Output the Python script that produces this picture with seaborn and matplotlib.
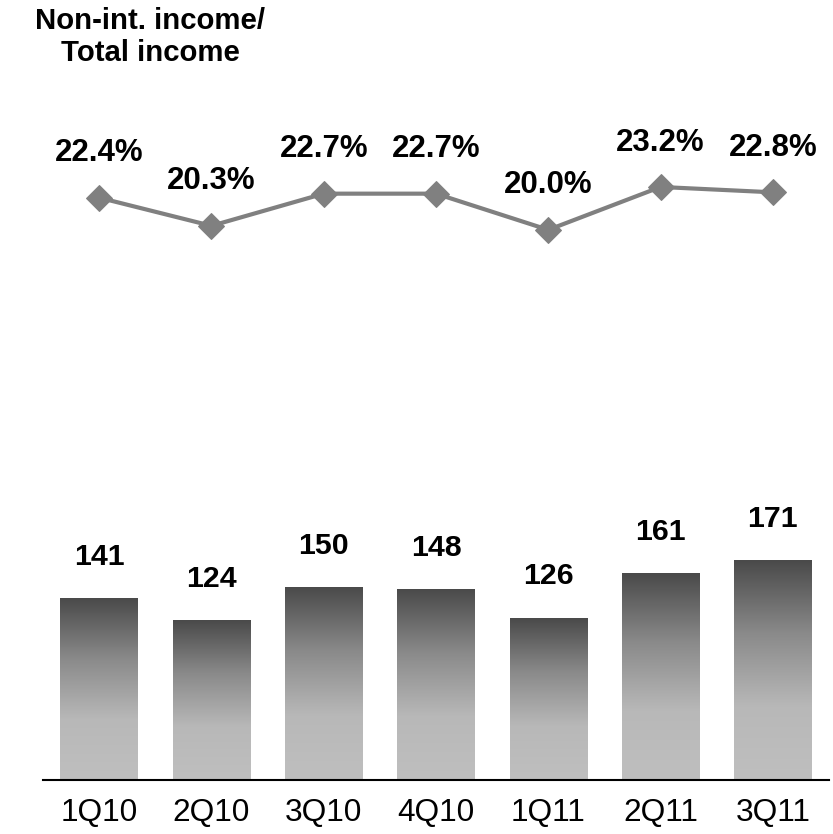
import numpy as np
import pandas as pd
import matplotlib
matplotlib.use('Agg')
import matplotlib.pyplot as plt
import seaborn as sns

# data
quarters = ['1Q10', '2Q10', '3Q10', '4Q10', '1Q11', '2Q11', '3Q11']
income = [141, 124, 150, 148, 126, 161, 171]
ratio = [22.4, 20.3, 22.7, 22.7, 20.0, 23.2, 22.8]

df = pd.DataFrame({'quarter': quarters, 'income': income, 'ratio': ratio})

sns.set_style('white')
plt.rcParams['font.family'] = ['Liberation Sans', 'DejaVu Sans']
plt.rcParams['text.color'] = 'black'
plt.rcParams['xtick.color'] = 'black'

W, H = 833, 834
fig = plt.figure(figsize=(W / 100, H / 100), dpi=100)

# bottom: bars
ax_bar = fig.add_axes([43 / W, 54 / H, 786 / W, 280 / H])
sns.barplot(data=df, x='quarter', y='income', ax=ax_bar, width=0.69,
            color='#888888', saturation=1)

# vertical gradient per bar: dark top, light bottom
grad = np.linspace(0, 1, 256).reshape(-1, 1)
cmap = matplotlib.colors.LinearSegmentedColormap.from_list(
    'g', ['#bfbfbf', '#b8b8b8', '#8a8a8a', '#4a4a4a'])
for p in ax_bar.patches:
    x0, y0 = p.get_x(), p.get_y()
    w, h = p.get_width(), p.get_height()
    p.set_facecolor('none')
    p.set_edgecolor('none')
    ax_bar.imshow(grad, extent=[x0, x0 + w, y0, y0 + h], origin='lower',
                  aspect='auto', cmap=cmap, zorder=2)
ax_bar.set_xlim(-0.5, 6.5)
ax_bar.set_ylim(0, 218)

for i, v in enumerate(income):
    ax_bar.annotate(str(v), (i, v), xytext=(0, 30), textcoords='offset points',
                    ha='center', va='center', fontsize=21.8, fontweight='bold',
                    color='black')

for s in ['top', 'right', 'left']:
    ax_bar.spines[s].set_visible(False)
ax_bar.spines['bottom'].set_color('black')
ax_bar.spines['bottom'].set_linewidth(1.5)
ax_bar.set_yticks([])
ax_bar.set_xlabel('')
ax_bar.set_ylabel('')
ax_bar.tick_params(axis='x', length=0, pad=13, labelsize=22.8, labelcolor='black')

# top: line
ax_line = fig.add_axes([43 / W, (H - 260) / H, 786 / W, 130 / H])
sns.lineplot(data=df, x='quarter', y='ratio', ax=ax_line, sort=False,
             color='#808080', linewidth=3, marker='D', markersize=13,
             markeredgecolor='#808080')
ax_line.set_xlim(-0.5, 6.5)
ax_line.set_ylim(17.75, 27.45)
ax_line.axis('off')

for i, v in enumerate(ratio):
    ax_line.annotate(f'{v:.1f}%', (i, v), xytext=(0, 32), textcoords='offset points',
                     ha='center', va='center', fontsize=22.5, fontweight='bold',
                     color='black')

fig.text(150 / W, 1 - 37 / H, 'Non-int. income/\nTotal income', ha='center', va='center',
         fontsize=21.2, fontweight='bold', linespacing=1.15, color='black')

fig.savefig('out.png', dpi=100)
